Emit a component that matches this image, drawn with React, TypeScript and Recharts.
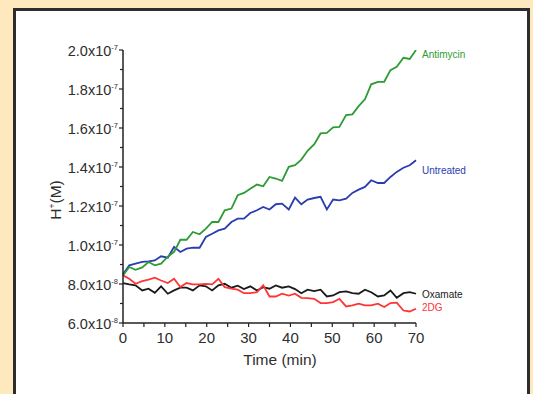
import React from 'react';
import { LineChart, Line, XAxis, YAxis, LabelList } from 'recharts';

// Time in minutes
const timeMin = [0, 1.5, 3.0, 4.6, 6.1, 7.6, 9.1, 10.7, 12.2, 13.7, 15.2, 16.7, 18.3, 19.8, 21.3, 22.8, 24.3, 25.9, 27.4, 28.9, 30.4, 32.0, 33.5, 35.0, 36.5, 38.0, 39.6, 41.1, 42.6, 44.1, 45.7, 47.2, 48.7, 50.2, 51.7, 53.3, 54.8, 56.3, 57.8, 59.3, 60.9, 62.4, 63.9, 65.4, 67.0, 68.5, 70.0];

// H+ concentration, in units of 1e-8 M
const antimycin = [8.44, 8.87, 8.73, 8.85, 9.13, 8.96, 9.04, 9.40, 9.65, 10.27, 10.27, 10.67, 10.55, 10.84, 11.18, 11.18, 11.78, 11.87, 12.55, 12.67, 12.89, 13.10, 13.01, 13.49, 13.41, 13.29, 14.01, 14.09, 14.38, 14.83, 15.17, 15.72, 15.75, 16.03, 16.06, 16.66, 16.70, 17.12, 17.47, 18.24, 18.37, 18.37, 18.97, 19.14, 19.60, 19.54, 20.00];
const untreated = [8.50, 8.96, 9.04, 9.13, 9.16, 9.21, 9.42, 9.35, 9.90, 9.64, 9.81, 9.86, 9.86, 10.41, 10.58, 10.75, 10.84, 11.18, 11.35, 11.35, 11.64, 11.78, 11.95, 11.82, 12.09, 12.12, 11.82, 12.43, 12.09, 12.33, 12.41, 12.47, 11.82, 12.33, 12.29, 12.38, 12.67, 12.84, 12.98, 13.32, 13.18, 13.18, 13.49, 13.75, 13.96, 14.09, 14.35];
const oxamate = [8.05, 7.98, 7.93, 7.67, 7.76, 7.55, 7.88, 7.50, 7.67, 7.81, 7.81, 7.67, 7.93, 7.88, 7.67, 7.93, 8.01, 7.81, 7.91, 7.74, 7.88, 7.67, 7.84, 7.76, 7.93, 7.81, 7.88, 7.74, 7.53, 7.71, 7.64, 7.71, 7.36, 7.41, 7.58, 7.62, 7.53, 7.50, 7.71, 7.58, 7.36, 7.41, 7.67, 7.29, 7.53, 7.58, 7.50];
const dg2 = [8.44, 8.27, 8.01, 8.15, 8.22, 8.32, 8.18, 8.05, 8.27, 7.84, 8.05, 7.98, 7.98, 8.01, 7.98, 8.27, 7.84, 7.76, 7.71, 7.53, 7.53, 7.58, 7.93, 7.36, 7.36, 7.50, 7.41, 7.50, 7.29, 7.28, 7.24, 7.02, 7.02, 7.07, 7.24, 6.85, 6.90, 6.99, 6.90, 6.90, 6.99, 6.82, 7.02, 7.04, 6.64, 6.59, 6.73];

const seriesNames = ['Antimycin', 'Untreated', 'Oxamate', '2DG'];

// Axis ticks
const xTicks = [0, 5, 10, 15, 20, 25, 30, 35, 40, 45, 50, 55, 60, 65, 70];
const xTickLabels = ['0', '', '10', '', '20', '', '30', '', '40', '', '50', '', '60', '', '70'];
const yTicks = [6, 7, 8, 9, 10, 11, 12, 13, 14, 15, 16, 17, 18, 19, 20];
const yTickMantissa = ['6.0', '', '8.0', '', '1.0', '', '1.2', '', '1.4', '', '1.6', '', '1.8', '', '2.0'];
const yTickExponent = ['-8', '', '-8', '', '-7', '', '-7', '', '-7', '', '-7', '', '-7', '', '-7'];

const data = timeMin.map((t, i) => ({
  t,
  antimycin: antimycin[i],
  untreated: untreated[i],
  oxamate: oxamate[i],
  dg2: dg2[i],
}));

const FONT = '"Liberation Sans", Arial, Helvetica, sans-serif';
const AXIS = '#222';
const TEXT = '#2e2e2e';

const YTick = (props: any) => {
  const { x, y, payload } = props;
  const idx = yTicks.indexOf(payload.value);
  const major = yTickMantissa[idx] !== '';
  return (
    <g>
      <line x1={x} x2={x - (major ? 4 : 3)} y1={y} y2={y} stroke={AXIS} strokeWidth={1.2} />
      {major && (
        <text x={x - 5} y={y + 6} textAnchor="end" fontFamily={FONT} fontSize={14.5} fill={TEXT}>
          {yTickMantissa[idx] + 'x10'}
          <tspan dy={-6} fontSize={7.5}>{yTickExponent[idx]}</tspan>
        </text>
      )}
    </g>
  );
};

const XTick = (props: any) => {
  const { x, y, payload } = props;
  const idx = xTicks.indexOf(payload.value);
  return (
    <g>
      <line x1={x} x2={x} y1={y} y2={y + 4} stroke={AXIS} strokeWidth={1.2} />
      {xTickLabels[idx] !== '' && (
        <text x={x} y={y + 20} textAnchor="middle" fontFamily={FONT} fontSize={15} fill={TEXT}>
          {xTickLabels[idx]}
        </text>
      )}
    </g>
  );
};

const makeEndLabel = (name: string, color: string, dy: number) => (props: any) => {
  const { x, y, index } = props;
  if (index !== timeMin.length - 1) return null;
  return (
    <text x={x + 6} y={y + dy} dominantBaseline="central" fontFamily={FONT} fontSize={10} fill={color}>
      {name}
    </text>
  );
};

const GREEN = '#2e9b35';
const BLUE = '#2a3db0';
const BLACK = '#1a1a1a';
const RED = '#ff3535';

export default function App() {
  return (
    <div style={{ position: 'absolute', left: 0, top: 0, width: 533, height: 394, background: '#fde9bd', overflow: 'hidden' }}>
      <div
        style={{
          position: 'absolute',
          left: 13,
          top: 8,
          width: 517,
          height: 400,
          border: '3px solid #2d2d2d',
          background: '#ffffff',
          boxSizing: 'border-box',
        }}
      />
      <div style={{ position: 'absolute', left: 0, top: 0 }}>
        <LineChart width={533} height={394} data={data} margin={{ top: 50, right: 117, bottom: 41, left: 0 }}>
          <XAxis
            dataKey="t"
            type="number"
            domain={[0, 70]}
            ticks={xTicks}
            interval={0}
            tickSize={0}
            tickMargin={0}
            tickLine={false}
            height={30}
            axisLine={{ stroke: AXIS, strokeWidth: 1.5 }}
            tick={<XTick />}
          />
          <YAxis
            type="number"
            domain={[6, 20]}
            ticks={yTicks}
            interval={0}
            width={123}
            tickSize={0}
            tickMargin={0}
            tickLine={false}
            axisLine={{ stroke: AXIS, strokeWidth: 1.5 }}
            tick={<YTick />}
            allowDataOverflow
          />
          <Line type="linear" dataKey="oxamate" stroke={BLACK} strokeWidth={1.8} dot={false} isAnimationActive={false}>
            <LabelList dataKey="oxamate" content={makeEndLabel(seriesNames[2], BLACK, 1)} />
          </Line>
          <Line type="linear" dataKey="dg2" stroke={RED} strokeWidth={1.8} dot={false} isAnimationActive={false}>
            <LabelList dataKey="dg2" content={makeEndLabel(seriesNames[3], RED, -1)} />
          </Line>
          <Line type="linear" dataKey="untreated" stroke={BLUE} strokeWidth={1.8} dot={false} isAnimationActive={false}>
            <LabelList dataKey="untreated" content={makeEndLabel(seriesNames[1], BLUE, 10.5)} />
          </Line>
          <Line type="linear" dataKey="antimycin" stroke={GREEN} strokeWidth={1.8} dot={false} isAnimationActive={false}>
            <LabelList dataKey="antimycin" content={makeEndLabel(seriesNames[0], GREEN, 4)} />
          </Line>
          <text x={280} y={365} textAnchor="middle" fontFamily={FONT} fontSize={15.5} fill={TEXT}>
            Time (min)
          </text>
          <text
            transform="translate(61, 200) rotate(-90)"
            textAnchor="middle"
            fontFamily={FONT}
            fontSize={15.5}
            fill={TEXT}
          >
            H<tspan dy={-6} fontSize={8.5}>+</tspan>
            <tspan dy={6}>(M)</tspan>
          </text>
        </LineChart>
      </div>
    </div>
  );
}
